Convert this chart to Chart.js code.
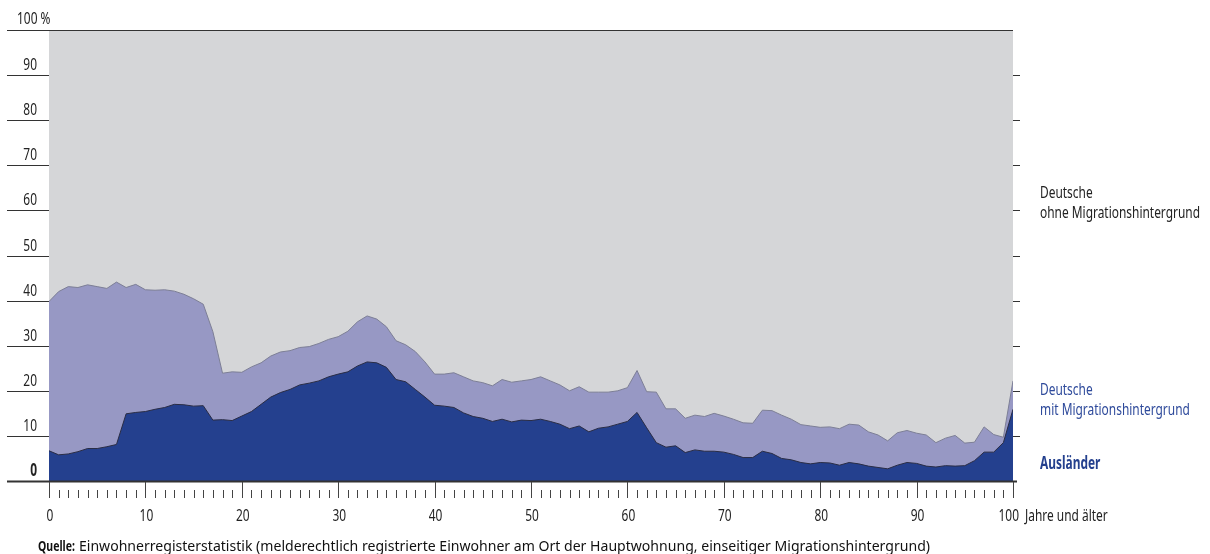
<!DOCTYPE html>
<html lang="de">
<head>
<meta charset="UTF-8">
<title>Bevölkerung nach Migrationsstatus und Alter</title>
<style>
    body {
        margin: 0;
        background: #fff;
    }
</style>
</head>
<body>
<canvas id="myChart" width="1210" height="554"></canvas>

<script src="https://cdn.jsdelivr.net/npm/chart.js"></script>
<script>
    // Alter in Jahren (100 = 100 Jahre und älter)
    const alter = [0, 1, 2, 3, 4, 5, 6, 7, 8, 9, 10, 11, 12, 13, 14, 15, 16, 17, 18, 19,
        20, 21, 22, 23, 24, 25, 26, 27, 28, 29, 30, 31, 32, 33, 34, 35, 36, 37, 38, 39,
        40, 41, 42, 43, 44, 45, 46, 47, 48, 49, 50, 51, 52, 53, 54, 55, 56, 57, 58, 59,
        60, 61, 62, 63, 64, 65, 66, 67, 68, 69, 70, 71, 72, 73, 74, 75, 76, 77, 78, 79,
        80, 81, 82, 83, 84, 85, 86, 87, 88, 89, 90, 91, 92, 93, 94, 95, 96, 97, 98, 99, 100];

    // Anteil Ausländer in %
    const auslaender = [6.7, 5.8, 6.0, 6.5, 7.2, 7.2, 7.6, 8.1, 14.9, 15.2,
        15.4, 15.9, 16.3, 17.0, 16.9, 16.6, 16.7, 13.5, 13.6, 13.4,
        14.4, 15.4, 17.0, 18.6, 19.6, 20.3, 21.3, 21.7, 22.2, 23.1,
        23.7, 24.2, 25.5, 26.4, 26.2, 25.2, 22.5, 22.0, 20.3, 18.6,
        16.8, 16.6, 16.3, 15.1, 14.3, 13.9, 13.2, 13.7, 13.1, 13.5,
        13.4, 13.7, 13.2, 12.6, 11.6, 12.2, 10.9, 11.7, 12.0, 12.6,
        13.2, 15.2, 11.8, 8.5, 7.5, 7.8, 6.3, 6.9, 6.6, 6.6,
        6.4, 5.9, 5.2, 5.2, 6.6, 6.1, 5.0, 4.7, 4.1, 3.8,
        4.1, 4.0, 3.5, 4.1, 3.8, 3.3, 3.0, 2.7, 3.5, 4.1,
        3.9, 3.3, 3.1, 3.4, 3.3, 3.4, 4.5, 6.4, 6.4, 8.5, 15.9];

    // Anteil mit Migrationshintergrund insgesamt (Ausländer + Deutsche mit MH) in %
    const mitMigration = [39.8, 42.0, 43.1, 42.9, 43.5, 43.1, 42.7, 44.1, 42.9, 43.6,
        42.4, 42.3, 42.4, 42.1, 41.4, 40.4, 39.2, 33.1, 23.9, 24.2,
        24.1, 25.3, 26.2, 27.7, 28.6, 28.9, 29.6, 29.8, 30.5, 31.4,
        32.0, 33.2, 35.3, 36.6, 35.9, 34.2, 31.1, 30.2, 28.7, 26.4,
        23.7, 23.7, 24.0, 23.1, 22.2, 21.8, 21.1, 22.5, 21.9, 22.2,
        22.5, 23.1, 22.2, 21.3, 20.0, 20.9, 19.7, 19.7, 19.7, 20.0,
        20.7, 24.5, 19.8, 19.7, 16.0, 16.0, 13.9, 14.6, 14.3, 15.0,
        14.4, 13.7, 12.9, 12.8, 15.7, 15.6, 14.6, 13.7, 12.5, 12.2,
        11.9, 12.0, 11.6, 12.6, 12.4, 10.9, 10.2, 8.9, 10.7, 11.2,
        10.6, 10.2, 8.5, 9.5, 10.1, 8.4, 8.6, 12.0, 10.3, 9.7, 22.2];

    const gesamt = 100; // Deutsche ohne MH füllen bis 100 %

    const yTicks = [0, 10, 20, 30, 40, 50, 60, 70, 80, 90, 100];
    const xLabels = [0, 10, 20, 30, 40, 50, 60, 70, 80, 90, 100];

    const schrift = '"Noto Sans", "Open Sans", sans-serif';
    const groesse = '17px ';
    let enger = 1; // horizontale Stauchung, wird unten aus einer Textbreite bestimmt

    function punkte(werte) {
        return alter.map((a, i) => ({ x: a, y: werte[i] }));
    }

    // Text schmal zeichnen (wie eine Condensed-Schrift)
    function text(ctx, s, x, y, align, sx) {
        const w = ctx.measureText(s).width * sx;
        let x0 = x;
        if (align === 'right') x0 = x - w;
        if (align === 'center') x0 = x - w / 2;
        ctx.save();
        ctx.translate(x0, y);
        ctx.scale(sx, 1);
        ctx.textAlign = 'left';
        ctx.fillText(s, 0, 0);
        ctx.restore();
        return w;
    }

    const deko = {
        id: 'deko',
        afterDraw(chart) {
            const ctx = chart.ctx;
            const a = chart.chartArea;
            const x = chart.scales.x;
            const y = chart.scales.y;
            ctx.save();
            ctx.textBaseline = 'alphabetic';

            ctx.font = groesse + schrift;
            enger = 160 / ctx.measureText('ohne Migrationshintergrund').width;

            // y-Achse: Linien und Beschriftung
            ctx.fillStyle = '#222';
            yTicks.forEach(v => {
                const py = Math.round(y.getPixelForValue(v)) + 0.5;
                ctx.strokeStyle = '#333';
                ctx.beginPath();
                if (v === 0) {
                    ctx.lineWidth = 2;
                    ctx.moveTo(7, py);
                    ctx.lineTo(a.right + 4, py);
                } else if (v === 100) {
                    ctx.lineWidth = 1.2;
                    ctx.moveTo(7, py);
                    ctx.lineTo(a.right, py);
                } else {
                    ctx.lineWidth = 1;
                    ctx.moveTo(7, py);
                    ctx.lineTo(a.left, py);
                    ctx.moveTo(a.right, py);
                    ctx.lineTo(a.right + 7, py);
                }
                ctx.stroke();

                if (v === 100) {
                    ctx.font = groesse + schrift;
                    text(ctx, '100 %', 17, py - 7, 'left', enger);
                } else {
                    ctx.font = (v === 0 ? 'bold ' : '') + groesse + schrift;
                    text(ctx, String(v), 37, py - 6, 'right', enger);
                }
            });

            // x-Achse: Striche
            ctx.strokeStyle = '#444';
            ctx.lineWidth = 1;
            alter.forEach(v => {
                const px = Math.round(x.getPixelForValue(v)) + 0.5;
                ctx.beginPath();
                ctx.moveTo(px, v % 10 === 0 ? a.bottom + 1 : a.bottom + 9);
                ctx.lineTo(px, a.bottom + 17);
                ctx.stroke();
            });

            // x-Achse: Beschriftung
            ctx.font = groesse + schrift;
            ctx.fillStyle = '#222';
            xLabels.forEach(v => {
                if (v === 100) {
                    text(ctx, String(v), 1019, 521, 'right', enger);
                } else {
                    text(ctx, String(v), x.getPixelForValue(v) + 1, 521, 'center', enger);
                }
            });
            text(ctx, 'Jahre und älter', 1025, 521, 'left', enger);

            // Beschriftung der Flächen
            ctx.font = groesse + schrift;
            ctx.fillStyle = '#222';
            text(ctx, 'Deutsche', 1040, 198, 'left', enger);
            text(ctx, 'ohne Migrationshintergrund', 1040, 218, 'left', enger);
            ctx.fillStyle = '#2e4a9b';
            text(ctx, 'Deutsche', 1040, 395, 'left', enger);
            text(ctx, 'mit Migrationshintergrund', 1040, 415, 'left', enger);
            ctx.font = 'bold ' + groesse + schrift;
            ctx.fillStyle = '#24408e';
            text(ctx, 'Ausländer', 1040, 469, 'left', enger);

            // Quelle
            ctx.fillStyle = '#111';
            ctx.font = 'bold 15px ' + schrift;
            const w = text(ctx, 'Quelle:', 38, 551, 'left', enger);
            ctx.font = '14px ' + schrift;
            const quelle = 'Einwohnerregisterstatistik (melderechtlich registrierte Einwohner am Ort der Hauptwohnung, einseitiger Migrationshintergrund)';
            const x0 = 38 + w + 4;
            text(ctx, quelle, x0, 551, 'left', (930 - x0) / ctx.measureText(quelle).width);

            ctx.restore();
        }
    };

    const ctx = document.getElementById('myChart');

    const config = {
        type: 'line',
        data: {
            datasets: [
                {
                    label: 'Ausländer',
                    data: punkte(auslaender),
                    backgroundColor: '#24408e',
                    borderColor: '#2a2d45',
                    borderWidth: 1,
                    fill: 'origin'
                },
                {
                    label: 'Deutsche mit Migrationshintergrund',
                    data: punkte(mitMigration),
                    backgroundColor: '#9798c4',
                    borderColor: '#7d7f96',
                    borderWidth: 1,
                    fill: 'origin'
                },
                {
                    label: 'Deutsche ohne Migrationshintergrund',
                    data: alter.map(a => ({ x: a, y: gesamt })),
                    backgroundColor: '#d5d6d8',
                    borderWidth: 0,
                    fill: 'origin'
                }
            ]
        },
        options: {
            responsive: false,
            animation: false,
            devicePixelRatio: 1,
            layout: {
                padding: { left: 49, right: 197, top: 30, bottom: 73 }
            },
            elements: {
                point: { radius: 0 },
                line: { tension: 0 }
            },
            scales: {
                x: { type: 'linear', min: 0, max: 100, display: false },
                y: { min: 0, max: 100, display: false }
            },
            plugins: {
                legend: { display: false },
                tooltip: { enabled: false }
            }
        },
        plugins: [deko]
    };

    const myChart = new Chart(ctx, config);
</script>
</body>
</html>
